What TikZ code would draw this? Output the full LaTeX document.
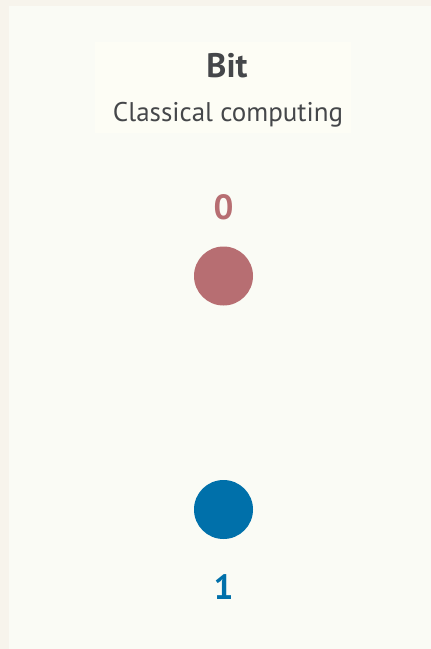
\documentclass[tikz,border=0pt]{standalone}
\usepackage{fontspec}
\setmainfont{PT Sans}
\usetikzlibrary{positioning}
\definecolor{outerbg}{HTML}{F7F4EC}
\definecolor{panelbg}{HTML}{FAFBF5}
\definecolor{titlebg}{HTML}{FDFDF5}
\definecolor{textgray}{HTML}{45474A}
\definecolor{zerored}{HTML}{B76E72}
\definecolor{oneblue}{HTML}{0070AA}
\tikzset{
  statedot/.style={circle,minimum size=59pt,inner sep=0pt},
  statelabel/.style={font=\fontsize{35}{35}\selectfont\bfseries,inner sep=0pt}
}
\begin{document}
\begin{tikzpicture}[x=1pt,y=-1pt]
	% Nền
	\fill[outerbg] (0,0) rectangle (431,649);
	\useasboundingbox (0,0) rectangle (431,649);
	\fill[panelbg] (9,6) rectangle (431,649);
	\fill[titlebg] (95,42) rectangle (351,133);
	% Tiêu đề
	\node[textgray,font=\fontsize{34}{34}\selectfont\bfseries,anchor=base] (title) at (227,77) {Bit};
	\node[textgray,font=\fontsize{27}{27}\selectfont,anchor=base] (subtitle) at (228,121) {Classical computing};
	% Hai trạng thái
	\node[statedot,fill=zerored] (zero) at (223.5,276) {};
	\node[statelabel,zerored,anchor=base] (zerolabel) at (223.5,219) {0};
	\node[statedot,fill=oneblue] (one) at (223.5,509.5) {};
	\node[statelabel,oneblue,anchor=base] (onelabel) at (223.5,599) {1};
\end{tikzpicture}
\end{document}
